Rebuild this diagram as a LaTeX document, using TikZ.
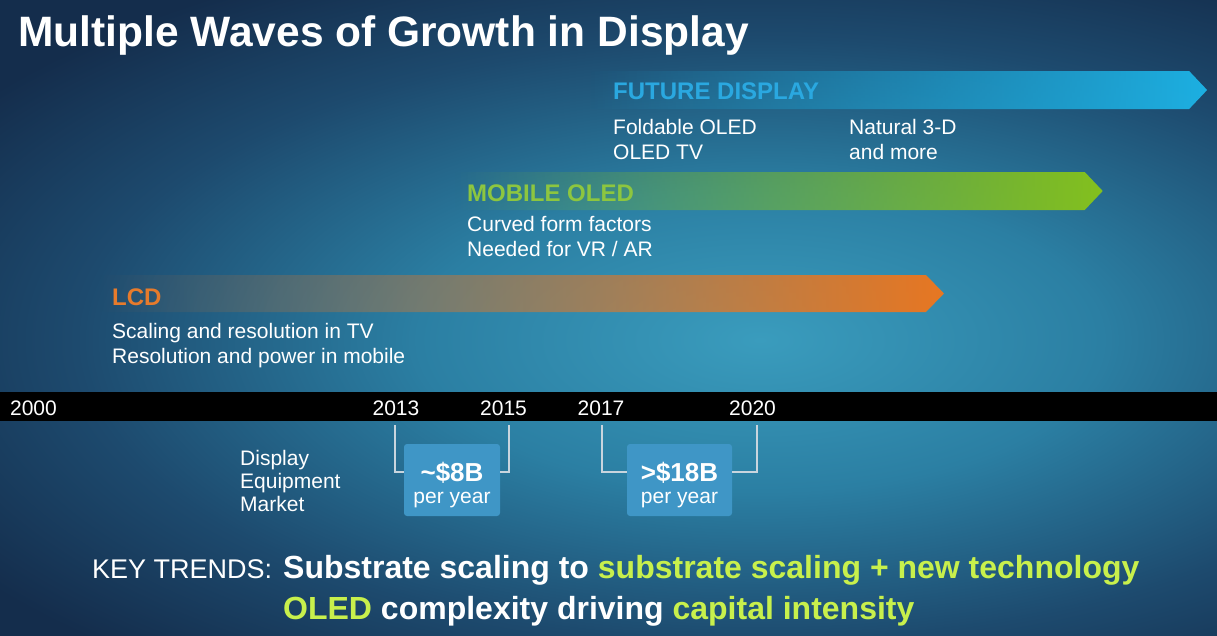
\documentclass[tikz,border=0pt]{standalone}
\usepackage{fontspec}
\setmainfont{Liberation Sans}
\usepackage{xcolor}
\usetikzlibrary{positioning,fadings}
\definecolor{BgDark}{HTML}{142D4C}
\definecolor{BgEdge}{HTML}{1D4A6E}
\definecolor{BgMidDeep}{HTML}{2B7FA3}
\definecolor{BgMid}{HTML}{3A9CBD}
\definecolor{FutureCyan}{HTML}{1DB0E2}
\definecolor{FutureText}{HTML}{2AA8E0}
\definecolor{MobileGreen}{HTML}{84C11E}
\definecolor{MobileText}{HTML}{8DC63F}
\definecolor{LcdOrange}{HTML}{E87722}
\definecolor{LcdText}{HTML}{E77B2C}
\definecolor{MarketBlue}{HTML}{3F96C6}
\definecolor{BracketGray}{HTML}{C9D5DE}
\definecolor{TrendLime}{HTML}{C8F04C}

\pgfdeclareradialshading{backglow}{\pgfpoint{0bp}{0bp}}{color(0bp)=(BgMid); color(9bp)=(BgMidDeep); color(18bp)=(BgEdge); color(25bp)=(BgDark); color(50bp)=(BgDark)}

\tikzfading[name=fadelcd, left color=transparent!100, middle color=transparent!0, right color=transparent!0]
\tikzfading[name=fademobile, left color=transparent!100, middle color=transparent!60, right color=transparent!0]
\tikzfading[name=fadefuture, left color=transparent!100, middle color=transparent!75, right color=transparent!0]

\begin{document}
\begin{tikzpicture}[x=1pt, y=-1pt,
	txt/.style={text=white, inner sep=0pt, font=\fontsize{21}{25.5}\selectfont},
	body/.style={txt, align=left, anchor=north west},
	head/.style={inner sep=0pt, anchor=base west, font=\bfseries\fontsize{24}{28}\selectfont},
	year/.style={txt, anchor=base},
	money/.style={fill=MarketBlue, rounded corners=3pt, minimum width=96pt, minimum height=72pt, align=center, text=white, inner sep=0pt, font=\fontsize{21}{22}\selectfont},
	bracket/.style={draw=BracketGray, line width=1.5pt},
	trend/.style={text=white, inner sep=0pt, anchor=base west, font=\bfseries\fontsize{32}{38}\selectfont}
]
\useasboundingbox (0,0) rectangle (1217,635);
% background
\begin{scope}
\clip (0,0) rectangle (1217,635);
\shade[shading=backglow] (-190,-80) rectangle (1710,760);
\end{scope}

\node[txt, anchor=base west, font=\bfseries\fontsize{42.5}{46}\selectfont] (title) at (18,46) {Multiple Waves of Growth in Display};

% the three waves
\fill[FutureCyan, path fading=fadefuture] (590,71) -- (1190,71) -- (1208,90) -- (1190,109) -- (590,109) -- cycle;
\fill[MobileGreen, path fading=fademobile] (455,172) -- (1085,172) -- (1103,191) -- (1085,210) -- (455,210) -- cycle;
\fill[LcdOrange, path fading=fadelcd] (100,275) -- (927,275) -- (945,293.5) -- (927,312) -- (100,312) -- cycle;

\node[head, text=FutureText] (future) at (613,99.5) {FUTURE DISPLAY};
\node[body, below=19pt of future.south west, anchor=north west] (foldable) {Foldable OLED\\OLED TV};
\node[body, right=92pt of foldable.north east, anchor=north west] (natural) {Natural 3-D\\and more};

\node[head, text=MobileText] (mobile) at (467,201) {MOBILE OLED};
\node[body, below=14.5pt of mobile.south west, anchor=north west] (curved) {Curved form factors\\Needed for VR / AR};

\node[head, text=LcdText] (lcd) at (112,305) {LCD};
\node[body, below=17.5pt of lcd.south west, anchor=north west] (scaling) {Scaling and resolution in TV\\Resolution and power in mobile};

% time line
\fill[black] (0,392) rectangle (1217,421);
\foreach \yr/\xx in {2000/33.5, 2013/396, 2015/503.5, 2017/601, 2020/752.5}
	\node[year] (y\yr) at (\xx,415.5) {\yr};

% equipment market
\node[body, font=\fontsize{21}{23}\selectfont] (market) at (240,450) {Display\\Equipment\\Market};
\node[money] (m8) at (452,480) {\rule{0pt}{30pt}{\bfseries\fontsize{26}{28}\selectfont\textasciitilde\$8B}\\per year};
\node[money, minimum width=105pt] (m18) at (679.5,480) {\rule{0pt}{30pt}{\bfseries\fontsize{26}{28}\selectfont>\$18B}\\per year};

\coordinate (b13) at (395,425);
\coordinate (b15) at (509,425);
\coordinate (b17) at (602,425);
\coordinate (b20) at (757,425);
\draw[bracket] (b13) |- ([yshift=8pt]m8.west);
\draw[bracket] (b15) |- ([yshift=8pt]m8.east);
\draw[bracket] (b17) |- ([yshift=8pt]m18.west);
\draw[bracket] (b20) |- ([yshift=8pt]m18.east);

% key trends
\node[txt, anchor=base west, font=\fontsize{27}{30}\selectfont] (keytr) at (92,578) {KEY TRENDS:};
\node[trend] (trend1) at (283,578) {Substrate scaling to \textcolor{TrendLime}{substrate scaling + new technology}};
\node[trend] (trend2) at (283,619.5) {\textcolor{TrendLime}{OLED} complexity driving \textcolor{TrendLime}{capital intensity}};
\end{tikzpicture}
\end{document}
